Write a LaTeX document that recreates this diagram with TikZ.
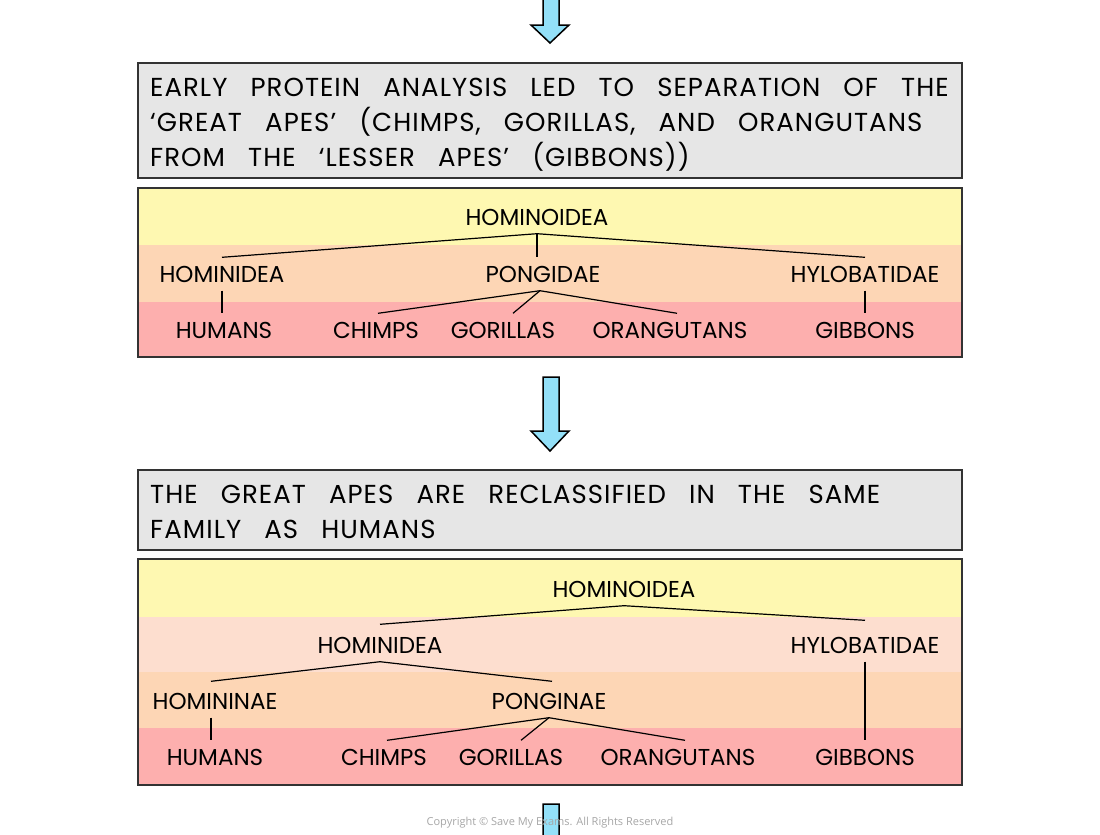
\documentclass[tikz,border=0pt]{standalone}
\usepackage{fontspec}
\usepackage{xcolor}
\usetikzlibrary{positioning}
\newfontfamily\boxfont[LetterSpace=4,WordSpace=2.9]{Poppins}
\newfontfamily\taxonfont{Poppins}
\newfontfamily\notefont{Open Sans}
\definecolor{boxgray}{HTML}{E6E6E6}
\definecolor{edgegray}{HTML}{333333}
\definecolor{bandyellow}{HTML}{FEF8B1}
\definecolor{bandpeach}{HTML}{FDD6B5}
\definecolor{bandlight}{HTML}{FDDECF}
\definecolor{bandpink}{HTML}{FDAFAE}
\definecolor{arrowblue}{HTML}{93E0F8}

\begin{document}
\begin{tikzpicture}[x=1pt,y=-1pt]

\tikzstyle{panel}=[draw=edgegray,line width=1.5pt]
\tikzstyle{note}=[anchor=north west,inner sep=0pt,align=left,font=\boxfont\fontsize{26}{35}\selectfont]
\tikzstyle{taxon}=[inner xsep=0pt,inner ysep=8pt,text height=17pt,text depth=0pt,font=\taxonfont\fontsize{23}{23}\selectfont]
\tikzstyle{link}=[draw=black,line width=1.2pt]
\tikzstyle{bigarrow}=[draw=black,fill=arrowblue,line width=1.5pt,line join=miter]

\useasboundingbox (0,0) rectangle (1100,835);
\clip (0,0) rectangle (1100,835);

% arrows between the stages
\foreach \top/\base/\tip in {-10/25/43, 377/431/451, 804/860/880}
  \draw[bigarrow] (543,\top) -- (559,\top) -- (559,\base) -- (569,\base) -- (550,\tip)
    -- (531,\base) -- (543,\base) -- cycle;

% first stage
\draw[panel,fill=boxgray] (138,63) rectangle (962,178);
\node (firstnote) [note] at (150,78) {EARLY PROTEIN ANALYSIS LED TO SEPARATION OF THE\\
‘GREAT APES’ (CHIMPS, GORILLAS, AND ORANGUTANS\\
FROM THE ‘LESSER APES’ (GIBBONS))};

\fill[bandyellow] (138,188) rectangle (962,245);
\fill[bandpeach] (138,245) rectangle (962,302);
\fill[bandpink] (138,302) rectangle (962,357);
\draw[panel] (138,188) rectangle (962,357);

\node (aroot) [taxon] at (537,217) {HOMINOIDEA};
\node (ahominidea) [taxon] at (222,274) {HOMINIDEA};
\node (apongidae) [taxon] at (543,274) {PONGIDAE};
\node (ahylo) [taxon] at (865,274) {HYLOBATIDAE};
\node (ahumans) [taxon] at (224,330) {HUMANS};
\node (achimps) [taxon] at (376,330) {CHIMPS};
\node (agorillas) [taxon] at (503,330) {GORILLAS};
\node (aorang) [taxon] at (670,330) {ORANGUTANS};
\node (agibbons) [taxon] at (865,330) {GIBBONS};

\draw[link] (aroot.south) -- (ahominidea.north);
\draw[link] (aroot.south) -- (aroot.south |- apongidae.north);
\draw[link] (aroot.south) -- (ahylo.north);
\draw[link] (ahominidea.south) -- (ahominidea.south |- ahumans.north);
\draw[link] ([xshift=-3pt]apongidae.south) -- ([xshift=2pt]achimps.north);
\draw[link] ([xshift=-3pt]apongidae.south) -- ([xshift=10pt]agorillas.north);
\draw[link] ([xshift=-3pt]apongidae.south) -- ([xshift=7pt]aorang.north);
\draw[link] (ahylo.south) -- (agibbons.north);

% second stage
\draw[panel,fill=boxgray] (138,470) rectangle (962,550);
\node (secondnote) [note] at (150,485) {THE GREAT APES ARE RECLASSIFIED IN THE SAME\\
FAMILY AS HUMANS};

\fill[bandyellow] (138,559) rectangle (962,617);
\fill[bandlight] (138,617) rectangle (962,672);
\fill[bandpeach] (138,672) rectangle (962,728);
\fill[bandpink] (138,728) rectangle (962,785);
\draw[panel] (138,559) rectangle (962,785);

\node (broot) [taxon] at (624,589) {HOMINOIDEA};
\node (bhominidea) [taxon] at (380,645) {HOMINIDEA};
\node (bhylo) [taxon] at (865,645) {HYLOBATIDAE};
\node (bhomininae) [taxon] at (215,701) {HOMININAE};
\node (bponginae) [taxon] at (549,701) {PONGINAE};
\node (bhumans) [taxon] at (215,757) {HUMANS};
\node (bchimps) [taxon] at (384,757) {CHIMPS};
\node (bgorillas) [taxon] at (511,757) {GORILLAS};
\node (borang) [taxon] at (678,757) {ORANGUTANS};
\node (bgibbons) [taxon] at (865,757) {GIBBONS};

\draw[link] (broot.south) -- ([yshift=4pt]bhominidea.north);
\draw[link] (broot.south) -- ([yshift=8pt]bhylo.north);
\draw[link] (bhominidea.south) -- ([xshift=-4pt,yshift=3pt]bhomininae.north);
\draw[link] (bhominidea.south) -- ([xshift=3pt,yshift=3pt]bponginae.north);
\draw[link] ([xshift=-4pt]bhomininae.south) -- ([xshift=-4pt]bhomininae.south |- bhumans.north);
\draw[link] (bponginae.south) -- ([xshift=3pt]bchimps.north);
\draw[link] (bponginae.south) -- ([xshift=10pt]bgorillas.north);
\draw[link] (bponginae.south) -- ([xshift=7pt]borang.north);
\draw[link] (bhylo.south) -- (bgibbons.north);

\node (copyright) [font=\notefont\fontsize{11}{11}\selectfont,text=black!35] at (550,823)
  {Copyright © Save My Exams. All Rights Reserved};

\end{tikzpicture}
\end{document}
